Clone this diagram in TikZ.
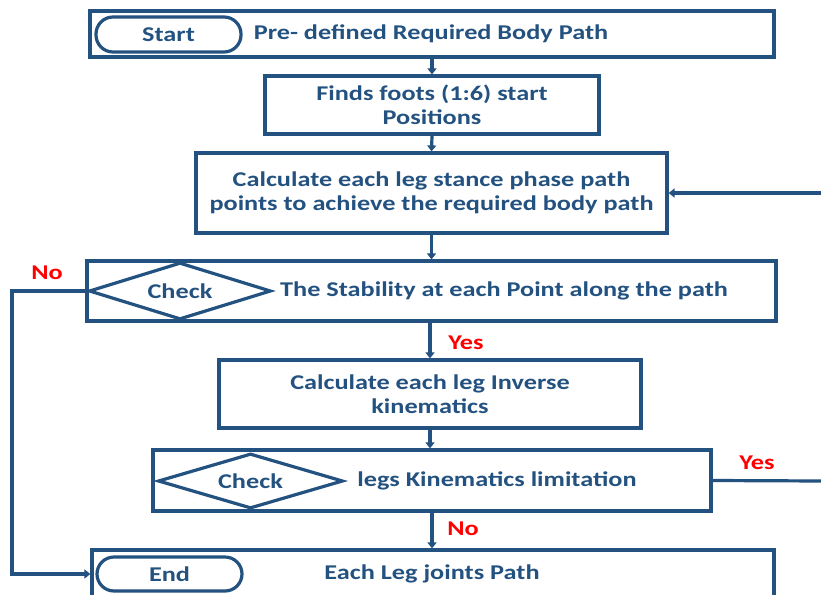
\documentclass[tikz,border=0pt]{standalone}
\usepackage{fontspec}
\setmainfont{Carlito}[FakeStretch=1.25]
\usetikzlibrary{shapes.geometric,arrows.meta,calc}
\definecolor{fblue}{RGB}{36,82,128}
\definecolor{fred}{RGB}{255,0,0}
\begin{document}
\begin{tikzpicture}[x=1pt,y=-1pt,
  every node/.style={font=\fontsize{21}{24.5}\selectfont\bfseries, text=fblue},
  procbox/.style={draw=fblue, line width=3.2pt, rectangle, inner sep=0pt, align=center},
  pill/.style={draw=fblue, line width=3.2pt, rectangle, rounded corners=17pt, inner sep=0pt, minimum width=145pt, minimum height=35pt},
  decide/.style={draw=fblue, line width=3.2pt, diamond, aspect=3.2, inner sep=0pt},
  plain/.style={inner sep=0pt, align=center},
  conn/.style={draw=fblue, line width=3.2pt, -{Triangle[length=6pt,width=9pt]}},
  line/.style={draw=fblue, line width=3.2pt},
  lbl/.style={text=fred, inner sep=0pt}]
\useasboundingbox (0,0) rectangle (821,594);
\clip (0,0) rectangle (821,594);
% boxes
\node[procbox, minimum width=684pt, minimum height=46pt] (b1) at (432,34) {};
\node[pill] (start) at (168.5,34.5) {Start};
\node[plain] (t1) at (431,34) {Pre- defined Required Body Path};
\node[procbox, minimum width=334pt, minimum height=58pt] (b2) at (432,105) {Finds foots (1:6) start\\Positions};
\node[procbox, minimum width=471pt, minimum height=80pt] (b3) at (431.5,193) {Calculate each leg stance phase path\\points to achieve the required body path};
\node[procbox, minimum width=689pt, minimum height=60pt] (b4) at (431.5,291) {};
\node[decide, minimum width=182pt, minimum height=57pt] (d1) at (180,291) {Check};
\node[plain] (t4) at (504,291) {The Stability at each Point along the path};
\node[procbox, minimum width=422pt, minimum height=68pt] (b5) at (430,394) {Calculate each leg Inverse\\kinematics};
\node[procbox, minimum width=558pt, minimum height=61pt] (b6) at (432,480.5) {};
\node[decide, minimum width=185pt, minimum height=55pt] (d2) at (250.5,481) {Check};
\node[plain] (t6) at (497,481) {legs Kinematics limitation};
\node[procbox, minimum width=682pt, minimum height=60pt] (b7) at (433,580) {};
\node[pill, minimum height=34pt] (endp) at (169.5,574) {End};
\node[plain] (t7) at (432,574) {Each Leg joints Path};
% free ends
\coordinate (loopin) at (823,193);
\coordinate (yesout) at (823,481);
\coordinate (nL) at (12,291);
% connectors
\draw[conn] (b1.south) -- (b2.north);
\draw[conn] (b2.south) -- (b3.north);
\draw[conn] (loopin) -- (b3.east);
\draw[conn] (b3.south) -- (b3.south |- b4.north);
\draw[conn] (b4.south -| b5.north) -- (b5.north);
\draw[conn] (b5.south) -- (b5.south |- b6.north);
\draw[conn] (b6.south) -- (b6.south |- b7.north);
\draw[line] (b6.east) -- (yesout);
\draw[conn] (d1.west) -- (nL) |- (b7.west |- endp.west);
% labels
\node[lbl] (no1) at (47,273) {No};
\node[lbl] (yes1) at (466,343) {Yes};
\node[lbl] (yes2) at (757,463) {Yes};
\node[lbl] (no2) at (463,529) {No};
\end{tikzpicture}
\end{document}
